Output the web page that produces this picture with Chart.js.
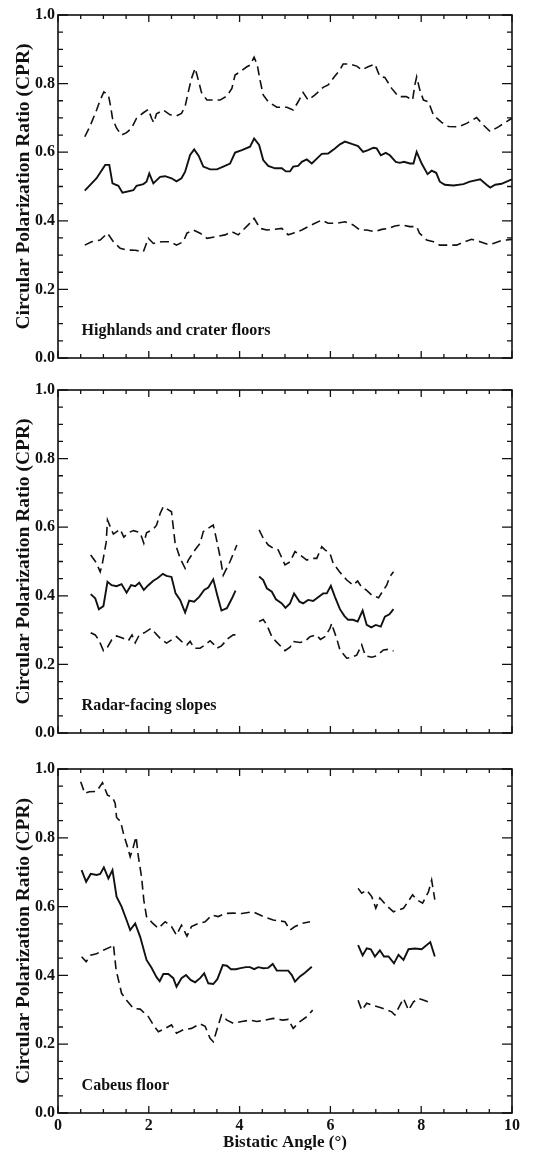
<!DOCTYPE html>
<html>
<head>
<meta charset="utf-8">
<script src="https://cdn.jsdelivr.net/npm/chart.js@4.4.0/dist/chart.umd.min.js"></script>
<style>
    body { margin: 0; background: #fff; overflow: hidden; }
    .painel { position: absolute; left: 0; width: 537px; }
</style>
</head>
<body>
<div class="painel" style="top:0;height:375px"><canvas id="grafico1"></canvas></div>
<div class="painel" style="top:375px;height:380px"><canvas id="grafico2"></canvas></div>
<div class="painel" style="top:755px;height:398px"><canvas id="grafico3"></canvas></div>
<script>
// valores: angulo biestatico (graus) e CPR
// painel 1 - Highlands and crater floors
const angMedia1 = [0.59,0.85,1.04,1.13,1.2,1.33,1.42,1.66,1.73,1.88,1.95,2.01,2.1,2.25,2.36,2.5,2.61,2.72,2.8,2.91,3.0,3.1,3.2,3.35,3.5,3.64,3.79,3.9,4.05,4.23,4.32,4.43,4.52,4.63,4.78,4.93,5.02,5.11,5.18,5.29,5.37,5.48,5.59,5.73,5.81,5.95,6.1,6.21,6.32,6.47,6.61,6.72,6.83,6.95,7.02,7.11,7.22,7.31,7.44,7.53,7.62,7.75,7.83,7.9,8.01,8.14,8.23,8.33,8.41,8.52,8.71,8.93,9.07,9.3,9.44,9.52,9.63,9.77,9.88,10.0]
const media1 = [0.488,0.524,0.563,0.563,0.509,0.502,0.482,0.489,0.502,0.507,0.514,0.538,0.509,0.528,0.530,0.524,0.515,0.524,0.543,0.592,0.608,0.589,0.558,0.55,0.55,0.558,0.567,0.599,0.606,0.616,0.640,0.621,0.577,0.56,0.553,0.553,0.544,0.544,0.558,0.56,0.572,0.579,0.567,0.585,0.595,0.596,0.611,0.623,0.631,0.624,0.618,0.601,0.606,0.613,0.611,0.591,0.598,0.591,0.572,0.569,0.572,0.567,0.567,0.601,0.567,0.536,0.546,0.540,0.514,0.505,0.503,0.507,0.514,0.521,0.505,0.497,0.505,0.508,0.514,0.521]
const angSup1 = [0.59,0.70,0.85,0.93,1.01,1.11,1.16,1.2,1.29,1.40,1.51,1.62,1.73,1.88,1.99,2.06,2.11,2.17,2.32,2.47,2.61,2.72,2.8,2.87,2.94,3.02,3.1,3.16,3.28,3.42,3.57,3.72,3.83,3.9,4.02,4.16,4.23,4.32,4.39,4.45,4.52,4.63,4.82,5.04,5.18,5.29,5.40,5.51,5.66,5.84,5.95,6.1,6.21,6.28,6.43,6.58,6.69,6.83,6.98,7.09,7.2,7.35,7.5,7.67,7.81,7.86,7.90,7.97,8.05,8.16,8.27,8.45,8.6,8.82,9.0,9.22,9.37,9.52,9.7,9.88,10.0]
const sup1 = [0.645,0.674,0.723,0.752,0.776,0.767,0.733,0.699,0.670,0.650,0.657,0.670,0.699,0.715,0.725,0.699,0.686,0.712,0.723,0.709,0.706,0.713,0.733,0.776,0.815,0.845,0.806,0.774,0.752,0.752,0.752,0.764,0.786,0.825,0.835,0.849,0.854,0.877,0.854,0.810,0.767,0.747,0.731,0.731,0.723,0.747,0.774,0.752,0.767,0.789,0.796,0.822,0.840,0.857,0.857,0.851,0.840,0.849,0.857,0.820,0.818,0.786,0.762,0.762,0.752,0.796,0.820,0.781,0.752,0.747,0.708,0.687,0.675,0.674,0.684,0.701,0.679,0.660,0.674,0.689,0.699]
const angInf1 = [0.59,0.74,0.93,1.09,1.22,1.37,1.51,1.70,1.88,1.99,2.1,2.28,2.47,2.61,2.76,2.84,2.98,3.13,3.28,3.5,3.68,3.83,3.97,4.19,4.32,4.45,4.6,4.74,4.93,5.07,5.18,5.37,5.51,5.66,5.81,5.95,6.14,6.32,6.5,6.65,6.8,6.98,7.13,7.28,7.42,7.57,7.75,7.9,7.96,8.12,8.27,8.41,8.6,8.78,8.96,9.11,9.3,9.48,9.59,9.74,9.88,10.0]
const inf1 = [0.329,0.339,0.344,0.364,0.339,0.320,0.315,0.314,0.310,0.349,0.334,0.339,0.339,0.329,0.339,0.364,0.373,0.364,0.349,0.354,0.359,0.368,0.359,0.388,0.407,0.378,0.373,0.375,0.378,0.359,0.364,0.373,0.383,0.393,0.402,0.393,0.393,0.397,0.388,0.373,0.373,0.368,0.375,0.378,0.385,0.388,0.383,0.383,0.364,0.344,0.339,0.329,0.329,0.329,0.339,0.346,0.339,0.331,0.334,0.341,0.344,0.346]

// painel 2 - Radar-facing slopes (null = intervalo sem dados)
const angMedia2 = [0.72,0.82,0.90,1.0,1.09,1.18,1.29,1.40,1.51,1.61,1.70,1.79,1.89,1.99,2.10,2.19,2.31,2.39,2.5,2.59,2.69,2.8,2.89,3.0,3.11,3.22,3.31,3.42,3.51,3.6,3.72,3.83,3.91,4.2,4.43,4.52,4.6,4.71,4.8,4.93,5.01,5.11,5.2,5.32,5.40,5.51,5.62,5.73,5.84,5.92,6.01,6.10,6.21,6.31,6.39,6.5,6.6,6.71,6.8,6.9,7.0,7.11,7.2,7.3,7.39]
const media2 = [0.405,0.393,0.361,0.370,0.441,0.431,0.428,0.434,0.409,0.431,0.428,0.438,0.417,0.431,0.444,0.451,0.464,0.458,0.455,0.407,0.388,0.351,0.386,0.383,0.397,0.417,0.424,0.448,0.401,0.357,0.364,0.392,0.415,null,0.456,0.446,0.422,0.412,0.390,0.378,0.365,0.378,0.407,0.383,0.378,0.388,0.385,0.396,0.407,0.407,0.429,0.397,0.361,0.341,0.330,0.330,0.325,0.357,0.315,0.308,0.315,0.310,0.339,0.346,0.361]
const angSup2 = [0.72,0.84,0.93,0.98,1.06,1.09,1.18,1.22,1.37,1.45,1.55,1.66,1.81,1.89,1.95,2.1,2.17,2.25,2.32,2.5,2.58,2.69,2.8,2.87,3.02,3.13,3.2,3.31,3.42,3.48,3.57,3.64,3.79,3.94,4.2,4.43,4.52,4.63,4.74,4.85,5.0,5.11,5.22,5.33,5.48,5.59,5.70,5.81,5.88,5.99,6.06,6.2,6.36,6.5,6.6,6.69,6.8,6.91,7.06,7.13,7.24,7.31,7.39]
const sup2 = [0.519,0.497,0.470,0.496,0.555,0.621,0.592,0.580,0.594,0.571,0.584,0.590,0.584,0.553,0.584,0.594,0.606,0.640,0.660,0.645,0.553,0.509,0.480,0.504,0.534,0.553,0.587,0.597,0.606,0.571,0.514,0.460,0.500,0.548,null,0.592,0.568,0.548,0.539,0.534,0.490,0.499,0.529,0.519,0.504,0.509,0.509,0.543,0.534,0.524,0.495,0.470,0.446,0.431,0.443,0.425,0.416,0.402,0.394,0.409,0.431,0.456,0.470]
const angInf2 = [0.72,0.82,0.90,1.0,1.09,1.18,1.29,1.42,1.55,1.63,1.70,1.79,1.9,2.05,2.25,2.39,2.61,2.72,2.84,2.91,3.0,3.13,3.24,3.35,3.42,3.5,3.6,3.75,3.86,3.95,4.2,4.43,4.52,4.6,4.71,4.8,5.0,5.11,5.18,5.33,5.44,5.55,5.69,5.78,5.88,5.99,6.03,6.06,6.14,6.21,6.36,6.47,6.58,6.69,6.77,6.91,7.02,7.17,7.28,7.39]
const inf2 = [0.292,0.286,0.271,0.240,0.250,0.271,0.283,0.277,0.269,0.286,0.263,0.286,0.292,0.305,0.276,0.262,0.281,0.267,0.257,0.267,0.247,0.247,0.257,0.269,0.260,0.247,0.254,0.276,0.286,0.286,null,0.325,0.331,0.315,0.281,0.267,0.240,0.250,0.267,0.264,0.267,0.281,0.286,0.273,0.281,0.305,0.320,0.305,0.275,0.242,0.218,0.221,0.227,0.257,0.225,0.221,0.225,0.242,0.244,0.239]

// painel 3 - Cabeus floor
const angMedia3 = [0.52,0.62,0.72,0.85,0.93,1.01,1.11,1.2,1.29,1.40,1.51,1.59,1.70,1.81,1.95,2.06,2.17,2.24,2.32,2.43,2.54,2.61,2.72,2.82,2.92,3.02,3.13,3.22,3.31,3.42,3.51,3.63,3.72,3.81,3.92,4.02,4.14,4.23,4.32,4.41,4.52,4.63,4.73,4.82,4.95,5.07,5.15,5.22,5.33,5.44,5.59,6.1,6.61,6.71,6.8,6.89,6.98,7.09,7.18,7.28,7.4,7.50,7.61,7.72,7.86,8.01,8.2,8.3]
const media3 = [0.706,0.672,0.695,0.692,0.695,0.714,0.682,0.706,0.629,0.600,0.561,0.532,0.551,0.512,0.445,0.422,0.395,0.383,0.404,0.404,0.392,0.367,0.392,0.401,0.387,0.380,0.392,0.406,0.377,0.375,0.389,0.430,0.428,0.418,0.418,0.421,0.424,0.424,0.418,0.424,0.421,0.422,0.433,0.414,0.414,0.414,0.401,0.382,0.397,0.408,0.425,null,0.488,0.458,0.479,0.476,0.455,0.473,0.455,0.455,0.435,0.460,0.445,0.476,0.478,0.476,0.497,0.455]
const angSup3 = [0.5,0.59,0.69,0.85,0.98,1.09,1.2,1.26,1.29,1.38,1.45,1.53,1.59,1.66,1.72,1.77,1.84,1.89,1.95,2.09,2.21,2.36,2.5,2.61,2.72,2.84,2.94,3.09,3.24,3.39,3.53,3.68,3.86,4.05,4.3,4.52,4.74,5.0,5.11,5.22,5.37,5.55,6.1,6.61,6.69,6.8,6.91,7.0,7.09,7.22,7.39,7.61,7.81,7.9,8.03,8.16,8.23,8.30]
const sup3 = [0.963,0.929,0.934,0.935,0.960,0.924,0.918,0.900,0.859,0.847,0.808,0.774,0.745,0.774,0.803,0.745,0.687,0.619,0.571,0.551,0.537,0.556,0.542,0.517,0.546,0.514,0.542,0.551,0.556,0.575,0.571,0.580,0.581,0.580,0.585,0.571,0.561,0.556,0.532,0.542,0.551,0.556,null,0.653,0.639,0.648,0.629,0.595,0.625,0.605,0.585,0.595,0.634,0.620,0.610,0.643,0.677,0.620]
const angInf3 = [0.52,0.62,0.72,0.85,1.01,1.18,1.22,1.28,1.40,1.51,1.66,1.81,1.99,2.1,2.21,2.36,2.5,2.61,2.76,2.94,3.13,3.24,3.35,3.42,3.5,3.6,3.72,3.86,4.05,4.23,4.38,4.56,4.74,4.95,5.07,5.18,5.33,5.48,5.61,6.1,6.61,6.69,6.8,6.98,7.13,7.35,7.42,7.61,7.72,7.83,7.94,8.06,8.23]
const inf3 = [0.454,0.440,0.459,0.463,0.474,0.484,0.490,0.416,0.348,0.328,0.304,0.302,0.280,0.256,0.236,0.246,0.256,0.232,0.242,0.246,0.259,0.252,0.217,0.207,0.242,0.285,0.270,0.261,0.266,0.270,0.266,0.270,0.275,0.270,0.272,0.246,0.266,0.280,0.299,null,0.328,0.299,0.319,0.311,0.305,0.294,0.285,0.333,0.299,0.323,0.333,0.328,0.319]

const fonteSerif = "'Liberation Serif', 'Times New Roman', serif"
const corTinta = '#111'

// caixa com marcas internas nos quatro lados + rotulo do painel
const moldura = {
    id: 'moldura',
    afterDraw(chart) {
        const { ctx, chartArea: a, scales: { x, y } } = chart
        ctx.save()
        ctx.strokeStyle = corTinta
        ctx.lineWidth = 1.6
        ctx.strokeRect(a.left, a.top, a.right - a.left, a.bottom - a.top)

        ctx.lineWidth = 1.3
        ctx.beginPath()
        for (let i = 0; i <= 20; i++) {
            const px = x.getPixelForValue(i * 0.5)
            const len = i % 4 === 0 ? 7 : 4
            ctx.moveTo(px, a.bottom); ctx.lineTo(px, a.bottom - len)
            ctx.moveTo(px, a.top); ctx.lineTo(px, a.top + len)
        }
        for (let i = 0; i <= 20; i++) {
            const py = y.getPixelForValue(i * 0.05)
            const len = i % 4 === 0 ? 10 : 5
            ctx.moveTo(a.left, py); ctx.lineTo(a.left + len, py)
            ctx.moveTo(a.right, py); ctx.lineTo(a.right - len, py)
        }
        ctx.stroke()

        const texto = chart.options.plugins.moldura.texto
        ctx.fillStyle = corTinta
        ctx.font = 'bold 16px ' + fonteSerif
        ctx.textAlign = 'left'
        ctx.textBaseline = 'middle'
        ctx.fillText(texto, x.getPixelForValue(0.52), y.getPixelForValue(0.08))
        ctx.restore()
    }
}

function serie(angulos, valores, tracejada) {
    return {
        data: angulos.map((a, i) => ({ x: a, y: valores[i] })),
        borderColor: corTinta,
        borderWidth: tracejada ? 1.6 : 1.9,
        borderDash: tracejada ? [9, 5] : [],
        pointRadius: 0,
        tension: 0,
        fill: false,
        spanGaps: false
    }
}

function opcoes(texto, topo, alturaX, mostrarX) {
    return {
        responsive: true,
        maintainAspectRatio: false,
        animation: false,
        layout: { padding: { top: topo, right: 25, left: 0, bottom: 0 } },
        plugins: {
            legend: { display: false },
            tooltip: { enabled: false },
            moldura: { texto: texto }
        },
        scales: {
            x: {
                type: 'linear',
                min: 0,
                max: 10,
                grid: { display: false, drawTicks: false },
                border: { display: false },
                ticks: { display: mostrarX, stepSize: 2, padding: 3, color: corTinta, font: { family: fonteSerif, size: 16, weight: 'bold' } },
                title: { display: mostrarX, text: 'Bistatic Angle (°)', color: corTinta, padding: 0, font: { family: fonteSerif, size: 17, weight: 'bold' } },
                afterFit: s => { s.height = alturaX }
            },
            y: {
                min: 0,
                max: 1,
                grid: { display: false, drawTicks: false },
                border: { display: false },
                ticks: { stepSize: 0.2, padding: 3, color: corTinta, font: { family: fonteSerif, size: 16, weight: 'bold' }, callback: v => v.toFixed(1) },
                title: { display: true, text: 'Circular Polarization Ratio (CPR)', color: corTinta, padding: { top: 12, bottom: 0 }, font: { family: fonteSerif, size: 19.5, weight: 'bold' } },
                afterFit: s => { s.width = 58 }
            }
        }
    }
}

function painel(id, media, sup, inf, texto, topo, alturaX, mostrarX) {
    return new Chart(document.getElementById(id), {
        type: 'line',
        data: { datasets: [serie(media[0], media[1], false), serie(sup[0], sup[1], true), serie(inf[0], inf[1], true)] },
        options: opcoes(texto, topo, alturaX, mostrarX),
        plugins: [moldura]
    })
}

painel('grafico1', [angMedia1, media1], [angSup1, sup1], [angInf1, inf1], 'Highlands and crater floors', 15, 17, false)
painel('grafico2', [angMedia2, media2], [angSup2, sup2], [angInf2, inf2], 'Radar-facing slopes', 15, 22, false)
painel('grafico3', [angMedia3, media3], [angSup3, sup3], [angInf3, inf3], 'Cabeus floor', 14, 40, true)
</script>
</body>
</html>
